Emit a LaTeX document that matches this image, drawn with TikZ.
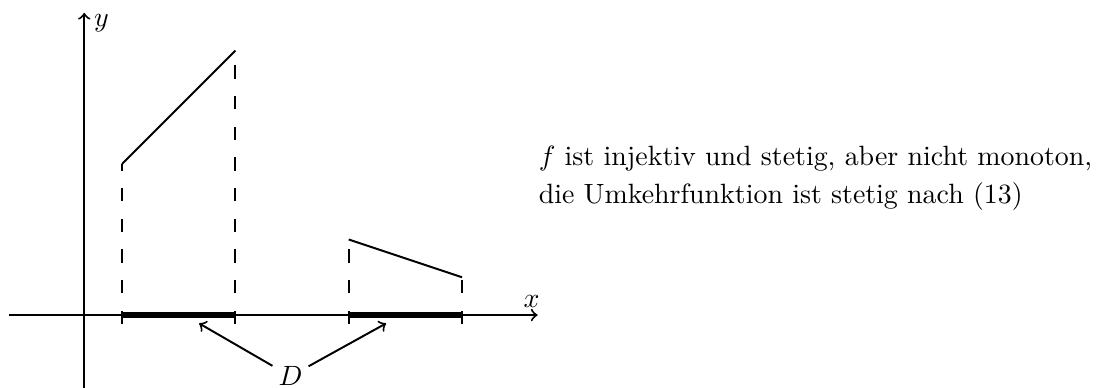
\documentclass[tikz,border=0pt]{standalone}
\usepackage{tikz}
\usetikzlibrary{positioning,calc}

\tikzset{
  axisline/.style={line width=0.7pt,->},
  graphline/.style={line width=0.7pt},
  domainbar/.style={line width=1.9pt},
  dropline/.style={line width=0.7pt,dash pattern=on 4.8pt off 6.2pt},
  pointer/.style={line width=0.7pt,->}
}

\begin{document}
\begin{tikzpicture}[x=0.476cm,y=0.476cm]
  \useasboundingbox (-2.23,-1.91) rectangle (27.31,8.34);
  \coordinate (xstart) at (-2,0);
  \coordinate (xend) at (12,0);
  \coordinate (ystart) at (0,-2);
  \coordinate (yend) at (0,8);
  \draw[axisline] (xstart) -- (xend);
  \draw[axisline] (ystart) -- (yend);
  \node[above] (xlabel) at (11.84,-0.06) {$x$};
  \node[right] (ylabel) at (0,7.72) {$y$};
  \foreach \a/\b/\fa/\fb in {1/4/4/7, 7/10/2/1} {
    \draw[domainbar] (\a,0) -- (\b,0);
    \draw[graphline] (\a,\fa) -- (\b,\fb);
    \draw[dropline] (\a,-0.24) -- (\a,\fa);
    \draw[dropline] (\b,-0.24) -- (\b,\fb);
  }
  \node[inner sep=2pt] (dlabel) at (5.46,-1.62) {$D$};
  \coordinate (dleft) at (3.04,-0.22);
  \coordinate (dright) at (7.99,-0.22);
  \draw[pointer] (dlabel) -- (dleft);
  \draw[pointer] (dlabel) -- (dright);
  \node[anchor=west,align=left,font=\rmfamily\fontsize{10}{13.7}\selectfont]
        (remark) at (11.77,3.63)
        {$f$ ist injektiv und stetig, aber nicht monoton,\\
         die Umkehrfunktion ist stetig nach (13)};
\end{tikzpicture}
\end{document}
